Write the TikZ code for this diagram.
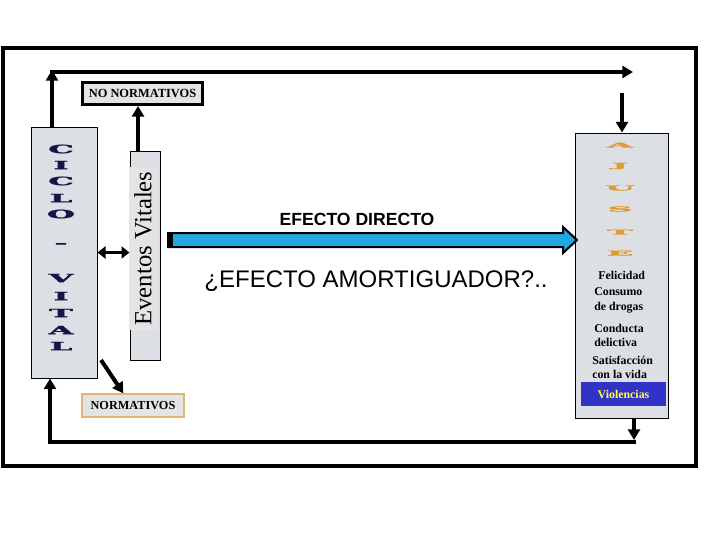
\documentclass[tikz,border=0pt]{standalone}
\usepackage{fontspec}
\setmainfont{Liberation Serif}
\newfontfamily\arialf{Liberation Sans}
\newfontfamily\heavyserif[FakeBold=2]{DejaVu Serif}
\usetikzlibrary{arrows.meta,calc}
\definecolor{boxgray}{HTML}{DCDFE4}
\definecolor{txtgray}{HTML}{E4E4E4}
\definecolor{navyl}{HTML}{15154A}
\definecolor{ajorange}{HTML}{E09A30}
\definecolor{arrblue}{HTML}{22A8E0}
\definecolor{violblue}{HTML}{3232C8}
\definecolor{violyel}{HTML}{FFFF44}
\definecolor{tanb}{HTML}{E2B478}
\begin{document}
\begin{tikzpicture}[x=0.75pt,y=-0.75pt,
  thickline/.style={line width=3pt},
  arr/.style={line width=3pt,-{Triangle[length=8pt,width=9pt]}},
  dblarr/.style={line width=2.5pt,{Triangle[length=6pt,width=9pt]}-{Triangle[length=6pt,width=9pt]}},
  graybox/.style={draw=black,line width=0.75pt,fill=boxgray,inner sep=0pt},
  cvletter/.style={text=navyl,font=\heavyserif\fontsize{10}{10}\selectfont\bfseries,inner sep=0pt},
  ajletter/.style={text=ajorange,font=\heavyserif\fontsize{10}{10}\selectfont\bfseries,inner sep=0pt},
  listtxt/.style={font=\fontsize{8.9}{11}\selectfont\bfseries,align=left,anchor=west,inner sep=0pt}]
\useasboundingbox (0,0) rectangle (720,540);
\fill[white] (0,0) rectangle (720,540);
% outer frame
\draw[line width=3pt] (3,48) rectangle (696,466);

% boxes
\node[graybox, minimum width=49.5pt, minimum height=188.25pt] (lbox) at (64,252.5) {};
\node[graybox, minimum width=22.5pt, minimum height=156.75pt] (ev) at (145,255.5) {};
\node[rotate=90, fill=txtgray, inner xsep=3pt, inner ysep=4pt,
      font=\fontsize{18.5}{20}\selectfont] (evt) at (143,248.5) {Eventos Vitales};
\node[draw=black, line width=2.25pt, fill=txtgray, minimum width=90pt, minimum height=16.5pt,
      inner sep=0pt, font=\fontsize{9.3}{10}\selectfont\bfseries] (nn) at (142.5,93.5) {NO NORMATIVOS};
\node[draw=tanb, line width=1pt, fill=txtgray, minimum width=76.5pt, minimum height=17.25pt,
      inner sep=0pt, font=\fontsize{9.2}{10}\selectfont\bfseries] (nm) at (133,405.5) {NORMATIVOS};
\node[graybox, minimum width=69.75pt, minimum height=213.75pt] (rbox) at (621.5,275.5) {};
\node[fill=violblue, minimum width=63.75pt, minimum height=18pt, inner sep=0pt,
      text=violyel, font=\fontsize{8.9}{10}\selectfont\bfseries] (viol) at (623.5,394) {Violencias};

% CICLO - VITAL letters
\foreach \ch/\yy [count=\i] in {C/149,I/165,C/181,L/198,O/214,-/245,V/278,I/296,T/313,A/330,L/346}
  \node[cvletter] (cv\i) at (61,\yy) {\scalebox{2.4}[0.85]{\ch}};

% AJUSTE glyphs
\foreach \ch/\yy [count=\i] in {A/145,J/166,U/188,S/209,T/232,E/253}
  \node[ajletter] (aj\i) at (620,\yy) {\scalebox{2.6}[0.5]{\ch}};

% right list
\node[listtxt] (fel) at (598,275) {Felicidad};
\node[listtxt] (cons) at (594,300.5) {Consumo\\de drogas};
\node[listtxt] (cond) at (594,335.5) {Conducta\\delictiva};
\node[listtxt] (sat) at (592,367.5) {Satisfacción\\con la vida};

% coordinates for loops
\coordinate (tl) at (52,72);
\coordinate (tr) at (633,72);
\coordinate (rdt) at (622,93);
\coordinate (br) at (634,442);
\coordinate (bl) at (50,442);
\coordinate (evx) at (138,0);
\coordinate (dg) at (101,360);
\coordinate (bluel) at (168,240);
\coordinate (bluet) at (577,240);

% top loop
\draw[arr] (lbox.north -| tl) -- ([yshift=1.5pt]tl);
\draw[arr] ([xshift=-1.5pt]tl) -- (tr);
\draw[arr] (rdt) -- (rdt |- rbox.north);
% bottom loop
\draw[arr] (rbox.south -| br) -- ([yshift=1.5pt]br);
\draw[arr, line join=miter] ([xshift=1.5pt]br) -- (bl) -- (bl |- lbox.south);

% eventos connectors
\draw[arr] (ev.north -| evx) -- (nn.south -| evx);
\draw[dblarr] (lbox.east) -- (ev.west |- lbox.east);
\draw[arr] (dg) -- ([xshift=31.5pt]nm.north west);

% blue arrow
\draw[line width=1.5pt, fill=arrblue, line join=miter]
  ($(bluel)+(0,-7)$) -- ($(bluet)+(-14,-7)$) -- ($(bluet)+(-14,-13)$) -- (bluet)
  -- ($(bluet)+(-14,13)$) -- ($(bluet)+(-14,7)$) -- ($(bluel)+(0,7)$) -- cycle;
\fill[black] ($(bluel)+(-1,-7)$) rectangle ($(bluel)+(5,7)$);

% labels
\node[font=\arialf\fontsize{13.2}{14}\selectfont\bfseries] (ed) at (357,219) {EFECTO DIRECTO};
\node[font=\arialf\fontsize{18}{20}\selectfont] (ea) at (376,281) {¿EFECTO AMORTIGUADOR?..};
\end{tikzpicture}
\end{document}
